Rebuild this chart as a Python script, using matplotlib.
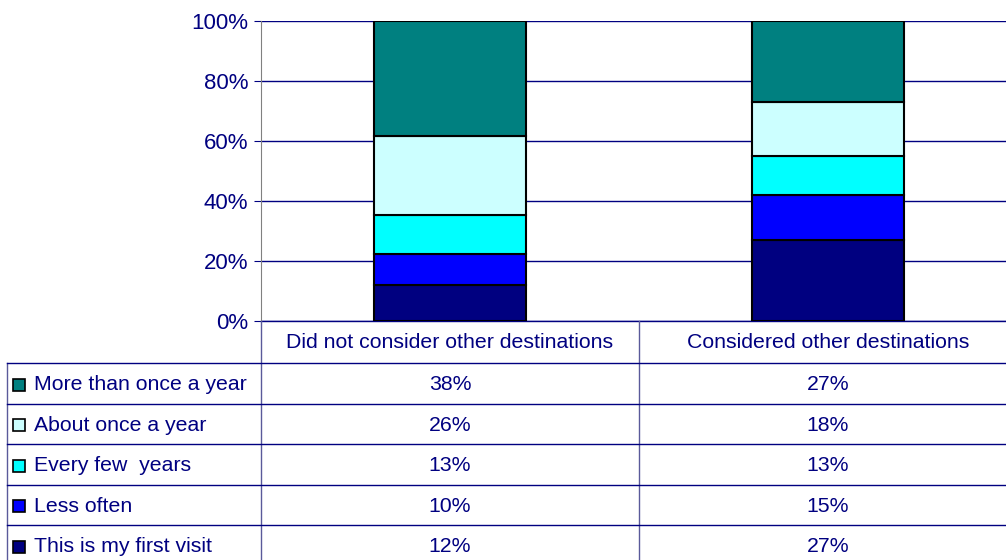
import matplotlib
matplotlib.use('Agg')
import matplotlib.pyplot as plt
import numpy as np

plt.rcParams['font.family'] = ['Liberation Sans', 'DejaVu Sans']

# 数据
categories = ['Did not consider other destinations', 'Considered other destinations']
series = ['This is my first visit', 'Less often', 'Every few  years',
          'About once a year', 'More than once a year']
values = {
    'This is my first visit': [12, 27],
    'Less often': [10, 15],
    'Every few  years': [13, 13],
    'About once a year': [26, 18],
    'More than once a year': [38, 27],
}
colors = ['#000080', '#0000FF', '#00FFFF', '#CCFFFF', '#008080']

navy = '#000080'
W, H = 1006, 560
x0, y_top, y_bot = 261, 21, 321
col_w = 378
fs = 15.3
fs_tick = 16

fig = plt.figure(figsize=(W / 100, H / 100), dpi=100)

# 柱状图区域 (右侧超出画布, 与原图一致)
ax = fig.add_axes([x0 / W, (H - y_bot) / H, 2 * col_w / W, (y_bot - y_top) / H])
data = np.array([values[s] for s in series], dtype=float)
data = data / data.sum(axis=0)
xs = np.arange(len(categories))
bottom = np.zeros(len(categories))
for i, s in enumerate(series):
    ax.bar(xs, data[i], 0.4, bottom=bottom, color=colors[i],
           edgecolor='black', linewidth=1.5, zorder=3)
    bottom += data[i]

ax.set_xlim(-0.5, len(categories) - 0.5)
ax.set_ylim(0, 1)
ax.set_yticks(np.arange(0, 1.01, 0.2))
ax.set_yticklabels([f'{int(round(v * 100))}%' for v in np.arange(0, 1.01, 0.2)],
                   fontsize=fs_tick, color=navy)
ax.tick_params(axis='y', length=5, color=navy, pad=4)
ax.set_xticks([])
ax.grid(axis='y', color=navy, linewidth=1, zorder=0)
for sp in ['top', 'right', 'bottom']:
    ax.spines[sp].set_visible(False)
ax.spines['left'].set_color('#808080')
ax.axhline(0, color=navy, linewidth=1, zorder=2, clip_on=False)

# 数据表
ax_t = fig.add_axes([0, 0, 1, 1])
ax_t.set_xlim(0, W)
ax_t.set_ylim(H, 0)
ax_t.axis('off')

left = 7
header_bot = 363
row_h = 40.5
n_rows = len(series)
row_top = [header_bot + r * row_h for r in range(n_rows)]

ax_t.plot([x0, x0], [y_bot, H], color='#5a5a9a', linewidth=1)
for c in range(1, len(categories)):
    xc = x0 + c * col_w
    ax_t.plot([xc, xc], [y_bot, H], color='#5a5a9a', linewidth=1)
ax_t.plot([left, left], [header_bot, H], color='#5a5a9a', linewidth=1)
for yt in row_top:
    ax_t.plot([left, W], [yt, yt], color=navy, linewidth=1)

for c, cat in enumerate(categories):
    ax_t.text(x0 + (c + 0.5) * col_w, (y_bot + header_bot) / 2 + 1, cat,
              ha='center', va='center', fontsize=fs, color=navy)

# 表格行从上到下: 逆序
for r, s in enumerate(series[::-1]):
    i = len(series) - 1 - r
    yc = row_top[r] + row_h / 2 + 1.5
    ax_t.plot(19, yc, marker='s', markersize=8, markerfacecolor=colors[i],
              markeredgecolor='black', markeredgewidth=1.2)
    ax_t.text(34, yc, s, ha='left', va='center', fontsize=fs, color=navy)
    for c in range(len(categories)):
        ax_t.text(x0 + (c + 0.5) * col_w, yc, f'{values[s][c]}%',
                  ha='center', va='center', fontsize=fs, color=navy)

plt.savefig('out.png', dpi=100)
